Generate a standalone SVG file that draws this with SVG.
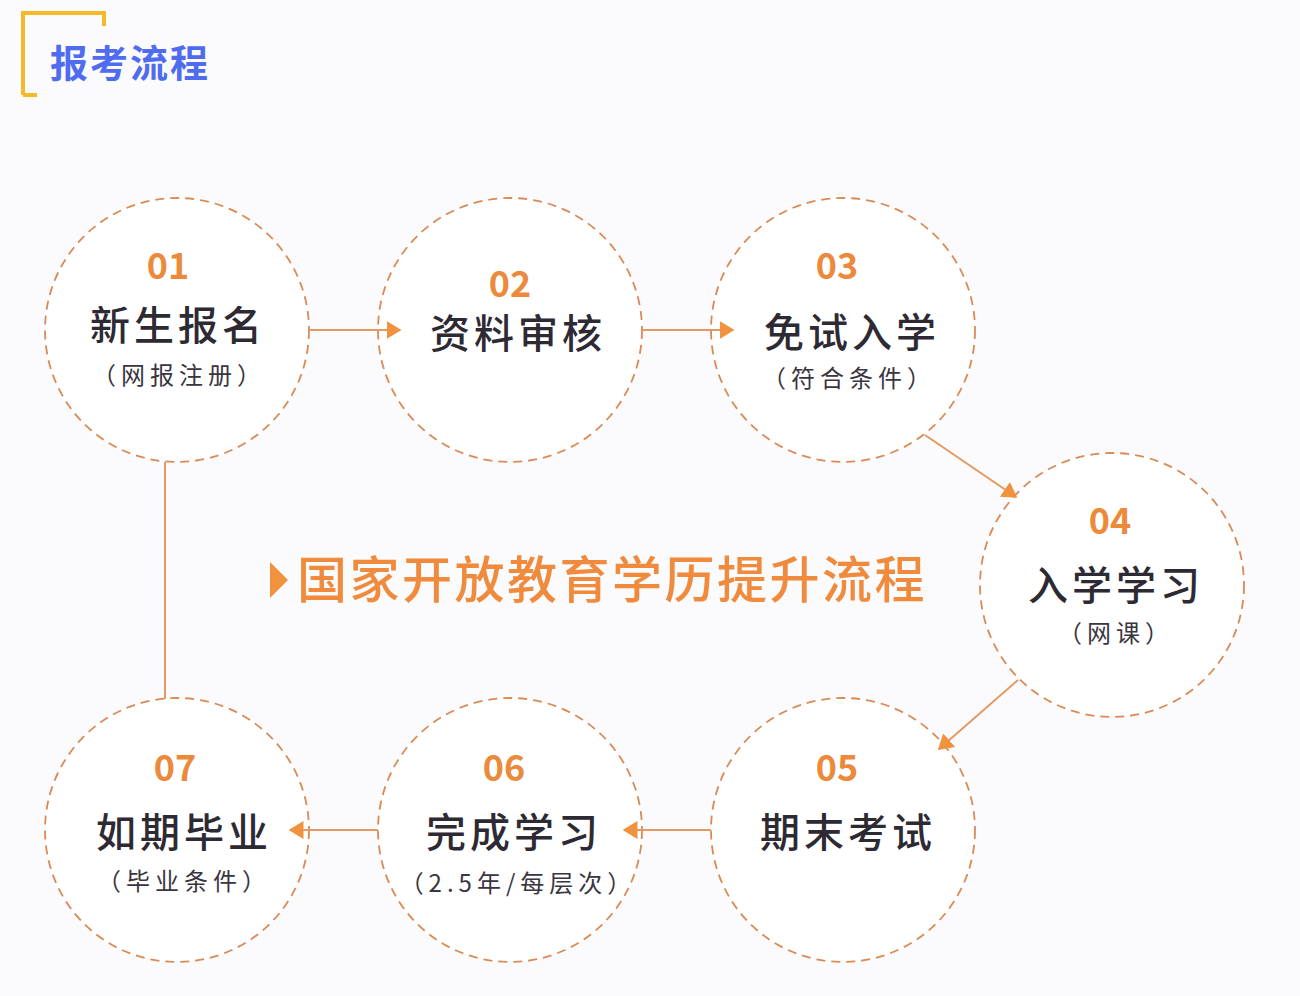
<svg xmlns="http://www.w3.org/2000/svg" width="1300" height="996" viewBox="0 0 1300 996">
<defs>
<style>
.ring{fill:#ffffff;stroke:#d98a55;stroke-width:1.8;stroke-dasharray:9 6}
.num{font-family:"Noto Sans CJK SC","Noto Sans",sans-serif;font-weight:700;font-size:36px;fill:#ec8a3c;text-anchor:middle}
.main{font-family:"Noto Sans CJK SC",sans-serif;font-weight:500;font-size:40px;fill:#2e2a33;text-anchor:middle;letter-spacing:4px}
.sub{font-family:"Noto Sans CJK SC",sans-serif;font-size:24px;fill:#3a3540;text-anchor:middle;letter-spacing:5px}
.conn{stroke:#e39a62;stroke-width:2;fill:none}
</style>
<marker id="ah" viewBox="0 0 10 12" refX="9" refY="6" markerWidth="15" markerHeight="18" markerUnits="userSpaceOnUse" orient="auto">
<path d="M0,0 L10,6 L0,12 Z" fill="#f0923e"/>
</marker>
</defs>
<rect width="1300" height="996" fill="#fbfbfd"/>
<g id="title">
<path d="M23,95 L23,13 L104,13 L104,26" fill="none" stroke="#f6b929" stroke-width="4"/>
<path d="M23,95 L37,95" fill="none" stroke="#f6b929" stroke-width="4"/>
<text x="50" y="77" font-family="'Noto Sans CJK SC',sans-serif" font-weight="700" font-size="38" fill="#4f6cf0" letter-spacing="2">报考流程</text>
</g>
<g id="center-title">
<path d="M270,562 L288,580 L270,598 Z" fill="#f0923e"/>
<text x="297" y="598" font-family="'Noto Sans CJK SC',sans-serif" font-weight="500" font-size="50" fill="#f08a3c" letter-spacing="2.5">国家开放教育学历提升流程</text>
</g>
<g id="node1">
<circle class="ring" cx="177" cy="330" r="132"/>
<text class="num" x="168" y="279">01</text>
<text class="main" x="178" y="340">新生报名</text>
<text class="sub" x="179" y="384">（网报注册）</text>
</g>
<g id="node2">
<circle class="ring" cx="510" cy="330" r="132"/>
<text class="num" x="510" y="297">02</text>
<text class="main" x="518" y="348">资料审核</text>
</g>
<g id="node3">
<circle class="ring" cx="843" cy="330" r="132"/>
<text class="num" x="837" y="279">03</text>
<text class="main" x="852" y="347">免试入学</text>
<text class="sub" x="849" y="387">（符合条件）</text>
</g>
<g id="node4">
<circle class="ring" cx="1112" cy="585" r="132"/>
<text class="num" x="1110" y="534">04</text>
<text class="main" x="1116" y="600">入学学习</text>
<text class="sub" x="1116" y="642">（网课）</text>
</g>
<g id="node5">
<circle class="ring" cx="843" cy="830" r="132"/>
<text class="num" x="837" y="781">05</text>
<text class="main" x="848" y="847">期末考试</text>
</g>
<g id="node6">
<circle class="ring" cx="510" cy="830" r="132"/>
<text class="num" x="504" y="781">06</text>
<text class="main" x="514" y="847">完成学习</text>
<text class="sub" x="518" y="892">（2.5年/每层次）</text>
</g>
<g id="node7">
<circle class="ring" cx="177" cy="830" r="132"/>
<text class="num" x="175" y="781">07</text>
<text class="main" x="184" y="847">如期毕业</text>
<text class="sub" x="184" y="890">（毕业条件）</text>
</g>
<g id="connectors">
<line class="conn" x1="165" y1="462" x2="165" y2="699"/>
<line class="conn" x1="310" y1="330" x2="400" y2="330" marker-end="url(#ah)"/>
<line class="conn" x1="643" y1="330" x2="733" y2="330" marker-end="url(#ah)"/>
<line class="conn" x1="925" y1="435" x2="1016" y2="497" marker-end="url(#ah)"/>
<line class="conn" x1="1018" y1="680" x2="939" y2="749" marker-end="url(#ah)"/>
<line class="conn" x1="711" y1="830" x2="624" y2="830" marker-end="url(#ah)"/>
<line class="conn" x1="378" y1="830" x2="290" y2="830" marker-end="url(#ah)"/>
</g>
</svg>
